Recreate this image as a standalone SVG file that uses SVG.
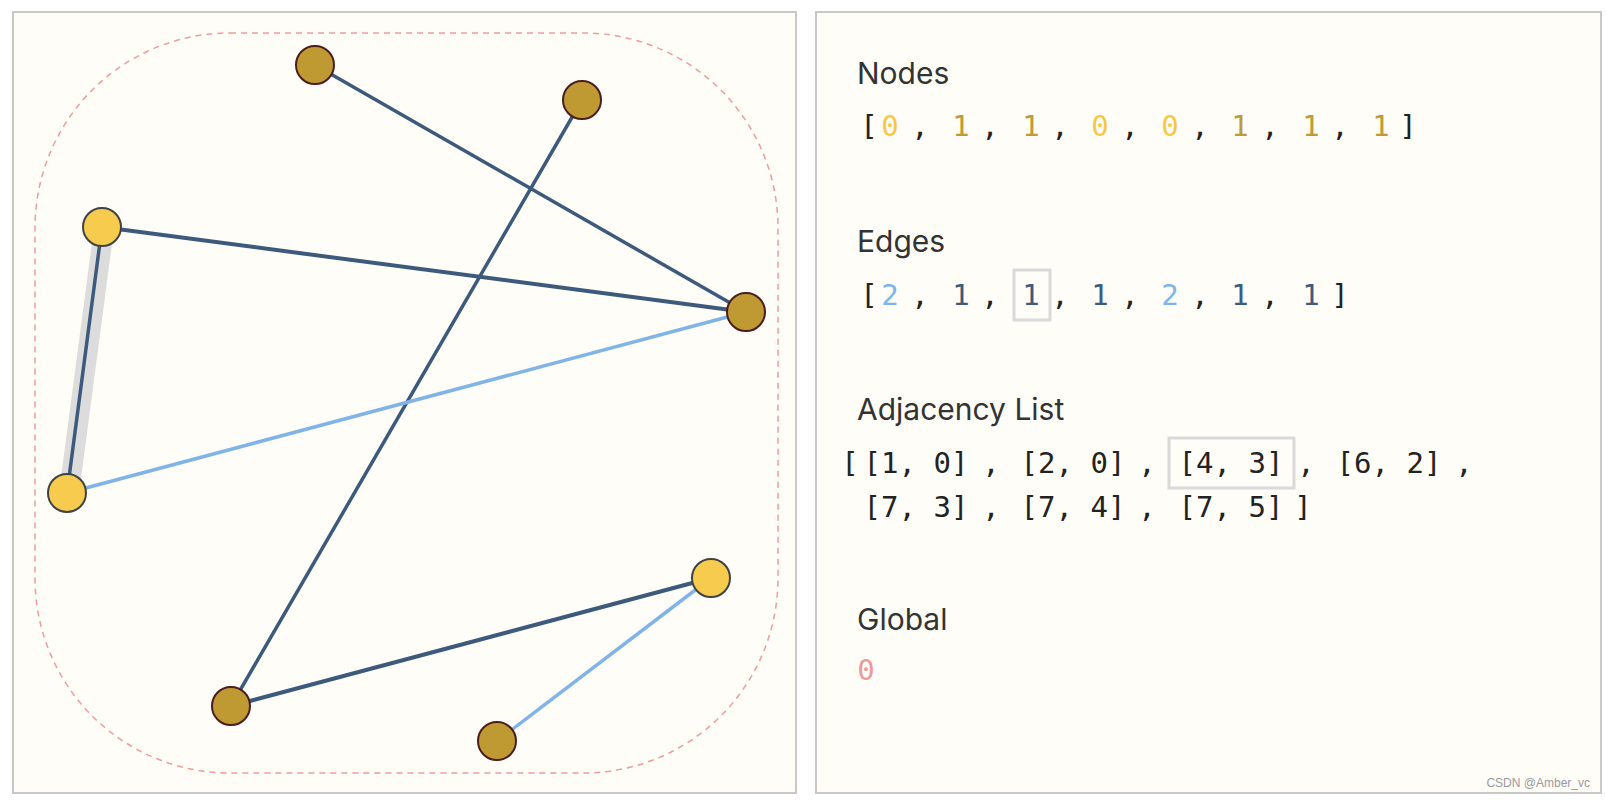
<svg xmlns="http://www.w3.org/2000/svg" width="1606" height="800" viewBox="0 0 1606 800">
<style>
.panel{fill:#fefdf8;stroke:#c8c8c8;stroke-width:2}
.edge{fill:none;stroke-linecap:round}
.dark{stroke:#3d5a7d;stroke-width:3.5}
.light{stroke:#80b4e8;stroke-width:3.5}
.hl{stroke:#dcdcdc;stroke-width:20;stroke-linecap:butt}
.n1{fill:#bf9a33;stroke:#4d1c1c;stroke-width:2}
.n0{fill:#f6cb4e;stroke:#3f4346;stroke-width:2}
.head{font-family:Inter,"Liberation Sans",sans-serif;font-size:30px;fill:#333333}
.mono{font-family:"DejaVu Sans Mono","Liberation Mono",monospace;font-size:29px;fill:#222222;text-anchor:middle}
.c0{fill:#f6c846}
.c1{fill:#c09a35}
.e2{fill:#80b4e8}
.e1{fill:#3d5a7d}
.box{fill:none;stroke:#d9d9d9;stroke-width:3}
</style>
<rect x="0" y="0" width="1606" height="800" fill="#ffffff"/>
<rect class="panel" x="13" y="12" width="783" height="781"/>
<rect class="panel" x="816" y="12" width="785" height="781"/>
<rect x="35" y="33" width="743" height="740" rx="195" ry="195" fill="none" stroke="#ef9c9c" stroke-width="1.5" stroke-dasharray="6,5"/>
<g id="connectors">
<line class="edge hl" x1="104" y1="228" x2="69" y2="493"/>
<line class="edge dark" x1="315" y1="65" x2="746" y2="312"/>
<line class="edge dark" x1="582" y1="100" x2="231" y2="706"/>
<line class="edge dark" x1="102" y1="227" x2="746" y2="312" style="stroke-width:4"/>
<line class="edge dark" x1="102" y1="227" x2="67" y2="493"/>
<line class="edge light" x1="67" y1="493" x2="746" y2="312"/>
<line class="edge dark" x1="711" y1="578" x2="231" y2="706" style="stroke-width:4"/>
<line class="edge light" x1="711" y1="578" x2="497" y2="741"/>
</g>
<g id="node-a"><circle class="n1" cx="315" cy="65" r="19"/></g>
<g id="node-b"><circle class="n1" cx="582" cy="100" r="19"/></g>
<g id="node-c"><circle class="n0" cx="102" cy="227" r="19"/></g>
<g id="node-d"><circle class="n1" cx="746" cy="312" r="19"/></g>
<g id="node-e"><circle class="n0" cx="67" cy="493" r="19"/></g>
<g id="node-f"><circle class="n0" cx="711" cy="578" r="19"/></g>
<g id="node-g"><circle class="n1" cx="231" cy="706" r="19"/></g>
<g id="node-h"><circle class="n1" cx="497" cy="741" r="19"/></g>
<g id="nodes-panel">
<text class="head" x="857" y="84">Nodes</text>
<text class="mono" y="136">
<tspan x="869">[</tspan><tspan x="890" class="c0">0</tspan><tspan x="920">,</tspan><tspan x="961" class="c1">1</tspan><tspan x="990">,</tspan><tspan x="1031" class="c1">1</tspan><tspan x="1060">,</tspan><tspan x="1100" class="c0">0</tspan><tspan x="1130">,</tspan><tspan x="1170" class="c0">0</tspan><tspan x="1200">,</tspan><tspan x="1240" class="c1">1</tspan><tspan x="1270">,</tspan><tspan x="1311" class="c1">1</tspan><tspan x="1340">,</tspan><tspan x="1381" class="c1">1</tspan><tspan x="1408">]</tspan>
</text>
</g>
<g id="edges-panel">
<text class="head" x="857" y="252">Edges</text>
<rect class="box" x="1014" y="270" width="36" height="50"/>
<text class="mono" y="305">
<tspan x="869">[</tspan><tspan x="890" class="e2">2</tspan><tspan x="920">,</tspan><tspan x="961" class="e1">1</tspan><tspan x="990">,</tspan><tspan x="1031" class="e1">1</tspan><tspan x="1060">,</tspan><tspan x="1100" class="e1">1</tspan><tspan x="1130">,</tspan><tspan x="1170" class="e2">2</tspan><tspan x="1200">,</tspan><tspan x="1240" class="e1">1</tspan><tspan x="1270">,</tspan><tspan x="1311" class="e1">1</tspan><tspan x="1340">]</tspan>
</text>
</g>
<g id="adjacency-panel">
<text class="head" x="857" y="420">Adjacency List</text>
<rect class="box" x="1169" y="438" width="125" height="50"/>
<text class="mono" y="473">
<tspan x="850">[</tspan><tspan x="916">[1, 0]</tspan><tspan x="991">,</tspan><tspan x="1073">[2, 0]</tspan><tspan x="1147">,</tspan><tspan x="1231">[4, 3]</tspan><tspan x="1306">,</tspan><tspan x="1389">[6, 2]</tspan><tspan x="1464">,</tspan>
</text>
<text class="mono" y="517">
<tspan x="916">[7, 3]</tspan><tspan x="991">,</tspan><tspan x="1073">[7, 4]</tspan><tspan x="1147">,</tspan><tspan x="1231">[7, 5]</tspan><tspan x="1303">]</tspan>
</text>
</g>
<g id="global-panel">
<text class="head" x="857" y="630">Global</text>
<text class="mono" x="866" y="680" style="fill:#ee9a9a">0</text>
</g>
<text x="1590" y="787" text-anchor="end" font-family="'Liberation Sans',Arial,sans-serif" font-size="12" fill="#9a9a9a">CSDN @Amber_vc</text>
</svg>
